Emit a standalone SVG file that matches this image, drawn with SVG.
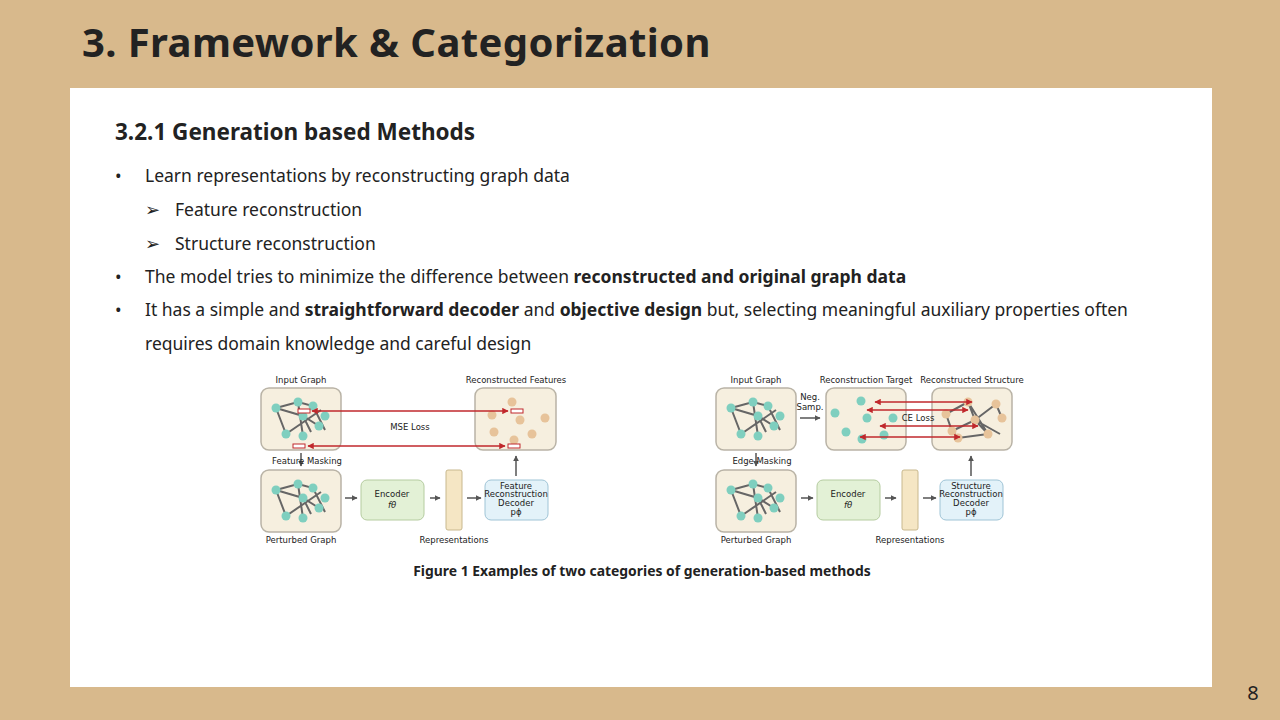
<svg xmlns="http://www.w3.org/2000/svg" xmlns:xlink="http://www.w3.org/1999/xlink" width="1280" height="720" viewBox="0 0 1280 720">
<style>
.t{font-family:"Noto Sans","Open Sans",sans-serif;fill:#222}
.b{font-size:17.5px}
.f{font-family:"DejaVu Sans",sans-serif;font-size:8.5px;fill:#222;text-anchor:middle}
.gb{fill:#f6efdf;stroke:#b9b3a6;stroke-width:1.5}
.e{stroke:#666;stroke-width:2;fill:none}
.n{fill:#7fcfbf}
.o{fill:#e7c39a}
.r{stroke:#c0282c;stroke-width:1.6;fill:none}
.a{stroke:#555;stroke-width:1.5;fill:none}
</style>
<defs>
<marker id="ah" viewBox="0 0 10 10" refX="9" refY="5" markerWidth="4" markerHeight="4" orient="auto"><path d="M0,0L10,5L0,10z" fill="#555"/></marker>
<marker id="rh" viewBox="0 0 10 10" refX="9" refY="5" markerWidth="4" markerHeight="4" orient="auto-start-reverse"><path d="M0,0L10,5L0,10z" fill="#c0282c"/></marker>
<g id="gr">
<rect class="gb" x="0" y="0" width="80" height="62" rx="8"/>
<path class="e" d="M15,20L37,14L42,48M15,20L25,46L60,22M37,14L52,18L64,42M42,28L50,44M15,20L42,28L58,38"/>
<circle class="n" cx="37" cy="14" r="4.5"/><circle class="n" cx="52" cy="18" r="4.5"/><circle class="n" cx="15" cy="20" r="4.5"/><circle class="n" cx="42" cy="28" r="4.5"/><circle class="n" cx="64" cy="28" r="4.5"/><circle class="n" cx="25" cy="46" r="4.5"/><circle class="n" cx="58" cy="38" r="4.5"/><circle class="n" cx="42" cy="48" r="4.5"/>
</g>
</defs>
<rect width="1280" height="720" fill="#d8b98c"/>
<text class="t" x="82" y="57" font-size="40" font-weight="bold" letter-spacing="0.4" fill="#3a3f44">3. Framework &amp; Categorization</text>
<rect x="70" y="88" width="1142" height="599" fill="#fff"/>
<text class="t" x="115" y="140" font-size="22.5" font-weight="bold" fill="#3a3f44">3.2.1 Generation based Methods</text>
<g class="t b">
<text x="115" y="182">•</text><text x="145" y="182">Learn representations by reconstructing graph data</text>
<text x="145" y="216">➢</text><text x="175" y="216">Feature reconstruction</text>
<text x="145" y="250">➢</text><text x="175" y="250">Structure reconstruction</text>
<text x="115" y="283">•</text><text x="145" y="283">The model tries to minimize the difference between <tspan font-weight="bold">reconstructed and original graph data</tspan></text>
<text x="115" y="316">•</text><text x="145" y="316">It has a simple and <tspan font-weight="bold">straightforward decoder</tspan> and <tspan font-weight="bold">objective design</tspan> but, selecting meaningful auxiliary properties often</text>
<text x="145" y="350">requires domain knowledge and careful design</text>
</g>
<g id="fig1">
<text class="f" x="301" y="383">Input Graph</text>
<use href="#gr" x="261" y="388"/>
<rect x="298" y="409" width="12" height="4" fill="#fff" stroke="#c0282c"/><rect x="293" y="444" width="12" height="4" fill="#fff" stroke="#c0282c"/>
<text class="f" x="516" y="383">Reconstructed Features</text>
<rect class="gb" x="475" y="388" width="81" height="62" rx="8"/>
<circle class="o" cx="512" cy="402" r="4.5"/><circle class="o" cx="492" cy="415" r="4.5"/><circle class="o" cx="520" cy="420" r="4.5"/><circle class="o" cx="545" cy="418" r="4.5"/><circle class="o" cx="494" cy="432" r="4.5"/><circle class="o" cx="532" cy="434" r="4.5"/><circle class="o" cx="514" cy="440" r="4.5"/>
<rect x="511" y="409" width="12" height="4" fill="#fff" stroke="#c0282c"/><rect x="508" y="444" width="12" height="4" fill="#fff" stroke="#c0282c"/>
<line class="r" x1="312" y1="411" x2="508" y2="411" marker-start="url(#rh)" marker-end="url(#rh)"/>
<line class="r" x1="308" y1="446" x2="505" y2="446" marker-start="url(#rh)" marker-end="url(#rh)"/>
<text class="f" x="410" y="430">MSE Loss</text>
<line class="a" x1="301" y1="453" x2="301" y2="466" marker-end="url(#ah)"/>
<text class="f" x="307" y="464" text-anchor="start">Feature Masking</text>
<use href="#gr" x="261" y="470"/>
<text class="f" x="301" y="543">Perturbed Graph</text>
<line class="a" x1="345" y1="498" x2="357" y2="498" marker-end="url(#ah)"/>
<rect x="361" y="480" width="63" height="40" rx="6" fill="#e3f1d6" stroke="#b5cca0"/>
<text class="f" x="392" y="497">Encoder</text><text class="f" x="392" y="508" font-style="italic">fθ</text>
<line class="a" x1="430" y1="498" x2="440" y2="498" marker-end="url(#ah)"/>
<rect x="446" y="470" width="16" height="60" rx="2" fill="#f5e6c4" stroke="#c8b88e"/>
<text class="f" x="454" y="543">Representations</text>
<line class="a" x1="467" y1="498" x2="481" y2="498" marker-end="url(#ah)"/>
<rect x="485" y="480" width="63" height="40" rx="6" fill="#e3f2f9" stroke="#9fc4d6"/>
<text class="f" x="516" y="489">Feature</text><text class="f" x="516" y="497">Reconstruction</text><text class="f" x="516" y="506">Decoder</text><text class="f" x="516" y="515">pϕ</text>
<line class="a" x1="516" y1="476" x2="516" y2="456" marker-end="url(#ah)"/>
</g>
<g id="fig2">
<text class="f" x="756" y="383">Input Graph</text>
<use href="#gr" x="716" y="388"/>
<text class="f" x="810" y="400">Neg.</text><text class="f" x="810" y="410">Samp.</text>
<line class="a" x1="800" y1="418" x2="820" y2="418" marker-end="url(#ah)"/>
<text class="f" x="866" y="383">Reconstruction Target</text>
<rect class="gb" x="826" y="388" width="80" height="62" rx="8"/>
<circle class="n" cx="835" cy="413" r="4.5"/><circle class="n" cx="861" cy="401" r="4.5"/><circle class="n" cx="867" cy="418" r="4.5"/><circle class="n" cx="893" cy="418" r="4.5"/><circle class="n" cx="846" cy="432" r="4.5"/><circle class="n" cx="862" cy="439" r="4.5"/><circle class="n" cx="884" cy="435" r="4.5"/>
<text class="f" x="972" y="383">Reconstructed Structure</text>
<rect class="gb" x="932" y="388" width="80" height="62" rx="8"/>
<path class="e" d="M946,414L968,402L975,420L996,404L1002,418M946,414L952,431L975,420L988,434L958,438L952,431M968,402L988,434M975,420L1000,434"/>
<circle class="o" cx="968" cy="402" r="4.5"/><circle class="o" cx="996" cy="404" r="4.5"/><circle class="o" cx="946" cy="414" r="4.5"/><circle class="o" cx="975" cy="420" r="4.5"/><circle class="o" cx="1002" cy="418" r="4.5"/><circle class="o" cx="952" cy="431" r="4.5"/><circle class="o" cx="988" cy="434" r="4.5"/><circle class="o" cx="958" cy="438" r="4.5"/>
<line class="r" x1="875" y1="402" x2="972" y2="402" marker-start="url(#rh)" marker-end="url(#rh)"/>
<line class="r" x1="867" y1="410" x2="968" y2="410" marker-start="url(#rh)" marker-end="url(#rh)"/>
<line class="r" x1="880" y1="426" x2="978" y2="426" marker-start="url(#rh)" marker-end="url(#rh)"/>
<line class="r" x1="860" y1="437" x2="960" y2="437" marker-start="url(#rh)" marker-end="url(#rh)"/>
<text class="f" x="918" y="421">CE Loss</text>
<line class="a" x1="756" y1="453" x2="756" y2="466" marker-end="url(#ah)"/>
<text class="f" x="762" y="464" text-anchor="start">Edge Masking</text>
<use href="#gr" x="716" y="470"/>
<text class="f" x="756" y="543">Perturbed Graph</text>
<line class="a" x1="801" y1="498" x2="813" y2="498" marker-end="url(#ah)"/>
<rect x="817" y="480" width="63" height="40" rx="6" fill="#e3f1d6" stroke="#b5cca0"/>
<text class="f" x="848" y="497">Encoder</text><text class="f" x="848" y="508" font-style="italic">fθ</text>
<line class="a" x1="885" y1="498" x2="896" y2="498" marker-end="url(#ah)"/>
<rect x="902" y="470" width="16" height="60" rx="2" fill="#f5e6c4" stroke="#c8b88e"/>
<text class="f" x="910" y="543">Representations</text>
<line class="a" x1="923" y1="498" x2="936" y2="498" marker-end="url(#ah)"/>
<rect x="940" y="480" width="63" height="40" rx="6" fill="#e3f2f9" stroke="#9fc4d6"/>
<text class="f" x="971" y="489">Structure</text><text class="f" x="971" y="497">Reconstruction</text><text class="f" x="971" y="506">Decoder</text><text class="f" x="971" y="515">pϕ</text>
<line class="a" x1="971" y1="476" x2="971" y2="456" marker-end="url(#ah)"/>
</g>
<text class="t" x="642" y="576" font-size="13.9" font-weight="bold" text-anchor="middle">Figure 1 Examples of two categories of generation-based methods</text>
<text class="t" x="1253" y="700" font-size="20" text-anchor="middle" fill="#3a3f44">8</text>
</svg>
